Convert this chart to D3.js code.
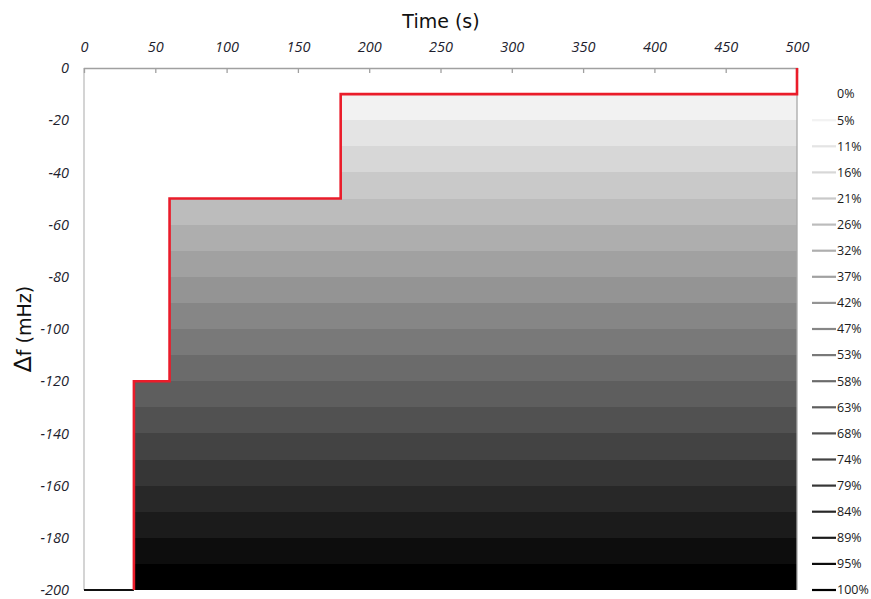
<!DOCTYPE html>
<html>
<head>
<meta charset="utf-8">
<script src="https://cdn.jsdelivr.net/npm/d3@7/dist/d3.min.js"></script>
<style>
  html, body { margin: 0; padding: 0; background: #fff; }
  svg { display: block; }
</style>
</head>
<body>
<svg id="chart" width="871" height="599"></svg>
<script>
// Share labels for the 20 grey bands (0 mHz downward, 10 mHz each)
const shareLabels = ["0%","5%","11%","16%","21%","26%","32%","37%","42%","47%",
                     "53%","58%","63%","68%","74%","79%","84%","89%","95%","100%"];
// Upper and lower frequency edge of each band (mHz)
const bandUpper = [0,-10,-20,-30,-40,-50,-60,-70,-80,-90,-100,-110,-120,-130,-140,-150,-160,-170,-180,-190];
const bandLower = [-10,-20,-30,-40,-50,-60,-70,-80,-90,-100,-110,-120,-130,-140,-150,-160,-170,-180,-190,-200];
// Time (s) at which each band becomes active
const bandStart = [500,180,180,180,180,60,60,60,60,60,60,60,35,35,35,35,35,35,35,35];
const bandEnd = 500;

// Step profile of the frequency deviation limit
const stepTime = [35,35,60,60,180,180,500,500];
const stepDf   = [-200,-120,-120,-50,-50,-10,-10,0];
// Flat segment before the first step
const baseTime = [0,35];
const baseDf   = [-200,-200];

const xTicks = [0,50,100,150,200,250,300,350,400,450,500];
const yTicks = [0,-20,-40,-60,-80,-100,-120,-140,-160,-180,-200];

const svg = d3.select("#chart");
const x = d3.scaleLinear().domain([0,500]).range([84,797]);
const y = d3.scaleLinear().domain([0,-200]).range([68,590]);

const n = shareLabels.length;
const grey = i => { const v = Math.round(255*(1 - i/(n-1))); return d3.rgb(v,v,v).toString(); };

// grey bands
svg.append("g").selectAll("rect")
  .data(d3.range(n))
  .join("rect")
  .attr("x", i => x(bandStart[i]))
  .attr("y", i => y(bandUpper[i]))
  .attr("width", i => x(bandEnd) - x(bandStart[i]))
  .attr("height", i => y(bandLower[i]) - y(bandUpper[i]))
  .attr("fill", i => grey(i))
  .attr("shape-rendering", "crispEdges");

// frame lines
svg.append("line")
  .attr("x1", x(0)).attr("x2", x(0)).attr("y1", y(0)).attr("y2", y(-200))
  .attr("stroke", "#bdbdbd").attr("stroke-width", 1.3);
svg.append("line")
  .attr("x1", x(500)).attr("x2", x(500)).attr("y1", y(-10)).attr("y2", y(-200))
  .attr("stroke", "#a8a8a8").attr("stroke-width", 1.3);

// top axis
const xAxis = d3.axisTop(x).tickValues(xTicks).tickSize(-5).tickFormat(d => d);
const gx = svg.append("g").attr("transform", `translate(0,${y(0)})`).call(xAxis);
gx.select(".domain").attr("stroke", "#a0a0a0").attr("stroke-width", 1.3);
gx.selectAll(".tick line").attr("stroke", "#a0a0a0").attr("stroke-width", 1.3);
gx.selectAll(".tick").filter(d => d === 0 || d === 500).select("line").remove();
gx.selectAll(".tick text")
  .attr("y", -16)
  .attr("fill", "#1e1e2e")
  .attr("font-family", "'Open Sans', 'DejaVu Sans', sans-serif")
  .attr("font-style", "italic")
  .attr("font-size", 14.5);

// left axis labels
const yAxis = d3.axisLeft(y).tickValues(yTicks).tickSize(0).tickFormat(d => d);
const gy = svg.append("g").attr("transform", `translate(${x(0)},0)`).call(yAxis);
gy.select(".domain").remove();
gy.selectAll(".tick text")
  .attr("x", -15)
  .attr("fill", "#1e1e2e")
  .attr("font-family", "'Open Sans', 'DejaVu Sans', sans-serif")
  .attr("font-style", "italic")
  .attr("font-size", 14.5);

// base segment and step profile
const line = d3.line().x(d => x(d[0])).y(d => y(d[1]));
svg.append("path")
  .datum(baseTime.map((t,i) => [t, baseDf[i]]))
  .attr("d", line).attr("fill", "none")
  .attr("stroke", "#111").attr("stroke-width", 2);
svg.append("path")
  .datum(stepTime.map((t,i) => [t, stepDf[i]]))
  .attr("d", line).attr("fill", "none")
  .attr("stroke", "#ea1c2a").attr("stroke-width", 2.6)
  .attr("stroke-linejoin", "miter");

// legend
const leg = svg.append("g").selectAll("g")
  .data(d3.range(n))
  .join("g")
  .attr("transform", i => `translate(0,${y(bandLower[i])})`);
leg.append("line")
  .attr("x1", 812).attr("x2", 836)
  .attr("stroke", i => grey(i)).attr("stroke-width", 2.2);
leg.append("text")
  .attr("x", 837).attr("dy", "0.35em")
  .attr("fill", "#1a1a1a")
  .attr("font-family", "'Open Sans', 'DejaVu Sans', sans-serif")
  .attr("font-size", 12.5)
  .text(i => shareLabels[i]);

// axis titles
svg.append("text")
  .attr("x", 441).attr("y", 28)
  .attr("text-anchor", "middle")
  .attr("fill", "#111")
  .attr("font-family", "'DejaVu Sans', sans-serif")
  .attr("font-size", 19)
  .text("Time (s)");
const yTitle = svg.append("text")
  .attr("transform", "translate(31,329) rotate(-90)")
  .attr("text-anchor", "middle")
  .attr("fill", "#111")
  .attr("font-family", "'DejaVu Sans', sans-serif")
  .attr("font-size", 19);
yTitle.append("tspan").attr("font-size", 24).text("∆");
yTitle.append("tspan").text("f (mHz)");
</script>
</body>
</html>
